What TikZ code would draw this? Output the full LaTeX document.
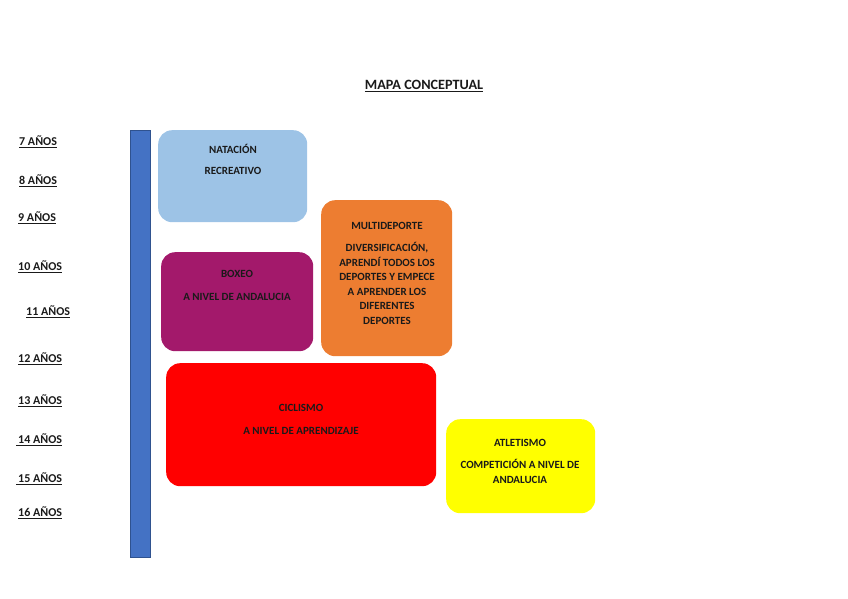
\documentclass[tikz,border=0pt]{standalone}
\usepackage{fontspec}
\setmainfont{Carlito}
\definecolor{barblue}{HTML}{4472C4}
\definecolor{barborder}{HTML}{2F528F}
\definecolor{natblue}{HTML}{9DC3E6}
\definecolor{multorange}{HTML}{ED7D31}
\definecolor{boxpurple}{HTML}{A3196B}
\definecolor{cicred}{HTML}{FF0000}
\definecolor{atlyellow}{HTML}{FFFF00}
\definecolor{txt}{HTML}{1A1A1A}
\tikzset{
  card/.style={draw=none, rounded corners=14pt, anchor=north west, inner sep=0pt},
  boxtxt/.style={font=\bfseries\fontsize{11}{14.6}\selectfont, text=txt, inner sep=0pt, align=center},
  agelbl/.style={font=\bfseries\fontsize{12}{14}\selectfont, text=txt, inner sep=0pt, anchor=west},
}
\begin{document}
\begin{tikzpicture}[x=1pt,y=-1pt]
\useasboundingbox (0,0) rectangle (848,599);
% title
\node[font=\bfseries\fontsize{14.2}{16}\selectfont, text=txt, inner sep=0pt] (title) at (424,86) {\underline{MAPA CONCEPTUAL}};
% timeline bar
\node[draw=barborder, line width=0.8pt, fill=barblue, anchor=north west, minimum width=20pt, minimum height=427pt, inner sep=0pt] (bar) at (130,130) {};
% ages
\node[agelbl] (a7) at (19,142) {\underline{7 AÑOS}};
\node[agelbl] (a8) at (19,181) {\underline{8 AÑOS}};
\node[agelbl] (a9) at (18,218) {\underline{9 AÑOS}};
\node[agelbl] (a10) at (18,267) {\underline{10 AÑOS}};
\node[agelbl] (a11) at (26,312) {\underline{11 AÑOS}};
\node[agelbl] (a12) at (18,359) {\underline{12 AÑOS}};
\node[agelbl] (a13) at (18,401) {\underline{13 AÑOS}};
\node[agelbl] (a14) at (16,440) {\underline{\,14 AÑOS}};
\node[agelbl] (a15) at (16,479) {\underline{\,15 AÑOS}};
\node[agelbl] (a16) at (18,513) {\underline{16 AÑOS}};
% cards
\node[card, fill=natblue, minimum width=149pt, minimum height=92pt] (nat) at (158,130) {};
\node[card, fill=multorange, minimum width=131pt, minimum height=156pt] (mult) at (321,200) {};
\node[card, fill=boxpurple, minimum width=152pt, minimum height=99pt] (box) at (161,252) {};
\node[card, fill=cicred, minimum width=270pt, minimum height=123pt] (cic) at (166,363) {};
\node[card, fill=atlyellow, minimum width=149pt, minimum height=94pt] (atl) at (446,419) {};
% texts
\node[boxtxt] (natT) at (233,149) {NATACIÓN};
\node[boxtxt] (natS) at (233,171) {RECREATIVO};
\node[boxtxt] (multT) at (387,226) {MULTIDEPORTE};
\node[boxtxt, anchor=north] (multS) at (387,242) {DIVERSIFICACIÓN,\\APRENDÍ TODOS LOS\\DEPORTES Y EMPECE\\A APRENDER LOS\\DIFERENTES\\DEPORTES};
\node[boxtxt] (boxT) at (237,274) {BOXEO};
\node[boxtxt] (boxS) at (237,297) {A NIVEL DE ANDALUCIA};
\node[boxtxt] (cicT) at (301,408) {CICLISMO};
\node[boxtxt] (cicS) at (301,431) {A NIVEL DE APRENDIZAJE};
\node[boxtxt] (atlT) at (520,443) {ATLETISMO};
\node[boxtxt, anchor=north] (atlS) at (520,459) {COMPETICIÓN A NIVEL DE\\ANDALUCIA};
\end{tikzpicture}
\end{document}
